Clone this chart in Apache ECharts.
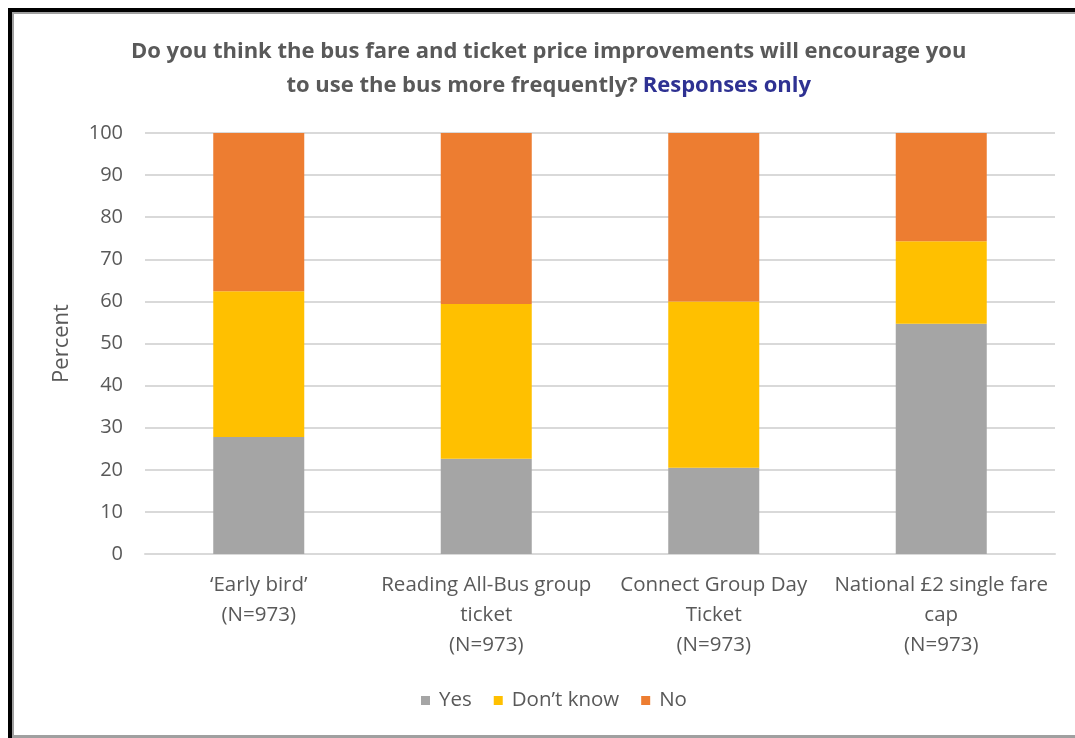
<!DOCTYPE html>
<html>
<head>
<meta charset="utf-8">
<script src="https://cdn.jsdelivr.net/npm/echarts@6/dist/echarts.min.js"></script>
<style>
  html, body { margin: 0; padding: 0; background: #fff; }
  #chart { width: 1075px; height: 738px; }
</style>
</head>
<body>
<div id="chart"></div>
<script>
// Survey responses (percent of respondents) for each fare improvement
const categories = [
  '\u2018Early bird\u2019\n(N=973)',
  'Reading All-Bus group\nticket\n(N=973)',
  'Connect Group Day\nTicket\n(N=973)',
  'National \u00a32 single fare\ncap\n(N=973)'
];
const yesValues = [27.8, 22.6, 20.5, 54.7];
const dontKnowValues = [34.6, 36.8, 39.5, 19.6];
const noValues = [37.6, 40.6, 40.0, 25.7];
const seriesNames = ['Yes', 'Don\u2019t know', 'No'];
const yTicks = { min: 0, max: 100, interval: 10 };

const font = '"Open Sans", "Noto Sans", sans-serif';
const textGray = '#595959';

const chart = echarts.init(document.getElementById('chart'), null, { renderer: 'canvas' });

function barSeries(name, data, color) {
  return {
    name: name,
    type: 'bar',
    stack: 'total',
    data: data,
    barCategoryGap: '60%',
    itemStyle: { color: color },
    emphasis: { disabled: true }
  };
}

chart.setOption({
  animation: false,
  backgroundColor: '#ffffff',
  title: {
    left: 126,
    top: 30,
    textAlign: 'left',
    text: '{a|Do you think the bus fare and ticket price improvements will encourage you}\n{a|to use the bus more frequently?} {b|Responses only}',
    textStyle: {
      align: 'center',
      rich: {
        a: { fontFamily: font, fontSize: 22, fontWeight: 'bold', color: textGray, lineHeight: 34, align: 'center' },
        b: { fontFamily: font, fontSize: 22, fontWeight: 'bold', color: '#2E3192', lineHeight: 34, align: 'center' }
      }
    }
  },
  legend: {
    top: 685,
    left: 416,
    icon: 'rect',
    itemWidth: 9,
    itemHeight: 9,
    itemGap: 22,
    textStyle: { fontFamily: font, fontSize: 20.5, color: textGray, padding: [0, 0, 0, 4] },
    data: seriesNames
  },
  grid: { left: 145, right: 20, top: 133, bottom: 184 },
  xAxis: {
    type: 'category',
    data: categories,
    axisLine: { show: true, lineStyle: { color: '#d9d9d9', width: 2 } },
    axisTick: { show: false },
    axisLabel: {
      interval: 0,
      margin: 16,
      fontFamily: font,
      fontSize: 20.5,
      color: textGray,
      lineHeight: 30
    }
  },
  yAxis: {
    type: 'value',
    min: yTicks.min,
    max: yTicks.max,
    interval: yTicks.interval,
    name: 'Percent',
    nameLocation: 'middle',
    nameRotate: 90,
    nameGap: 72,
    nameTextStyle: { fontFamily: font, fontSize: 22, color: textGray },
    axisLine: { show: false },
    axisTick: { show: false },
    axisLabel: { margin: 22, fontFamily: font, fontSize: 20, color: textGray },
    splitLine: { lineStyle: { color: '#d9d9d9', width: 2 } }
  },
  series: [
    barSeries(seriesNames[0], yesValues, '#A5A5A5'),
    barSeries(seriesNames[1], dontKnowValues, '#FFC000'),
    barSeries(seriesNames[2], noValues, '#ED7D31')
  ],
  graphic: [
    // outer frame: dark edge on top/left with a thin grey inner line
    { type: 'rect', shape: { x: 8, y: 8, width: 1067, height: 4 }, style: { fill: '#000' }, silent: true },
    { type: 'rect', shape: { x: 8, y: 8, width: 4, height: 730 }, style: { fill: '#000' }, silent: true },
    { type: 'rect', shape: { x: 12, y: 12, width: 1063, height: 2 }, style: { fill: '#a0a0a0' }, silent: true },
    { type: 'rect', shape: { x: 12, y: 12, width: 2, height: 726 }, style: { fill: '#a0a0a0' }, silent: true },
    { type: 'rect', shape: { x: 12, y: 735, width: 1063, height: 3 }, style: { fill: '#a0a0a0' }, silent: true }
  ]
});
</script>
</body>
</html>
